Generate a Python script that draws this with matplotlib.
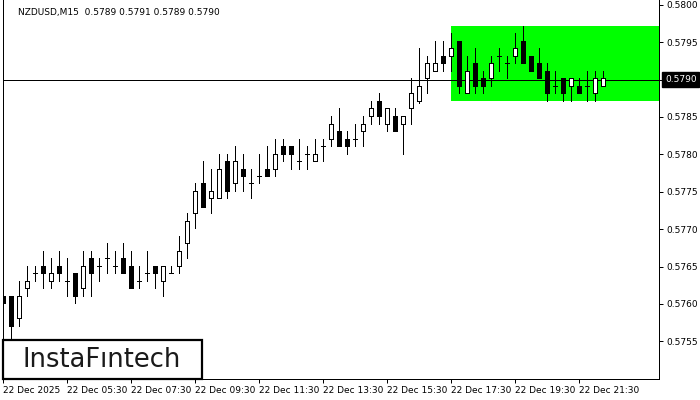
import numpy as np
import matplotlib
matplotlib.use('Agg')
import matplotlib.pyplot as plt
from matplotlib.patches import Rectangle

plt.rcParams['font.family'] = ['DejaVu Sans']

# NZDUSD M15 candles
opens = [0.57610, 0.57610, 0.57581, 0.57621, 0.57641, 0.57651, 0.57630, 0.57651,
         0.57630, 0.57641, 0.57621, 0.57661, 0.57651, 0.57661, 0.57651, 0.57661,
         0.57651, 0.57630, 0.57641, 0.57651, 0.57630, 0.57641, 0.57651, 0.57681,
         0.57721, 0.57761, 0.57741, 0.57741, 0.57791, 0.57761, 0.57781, 0.57761,
         0.57771, 0.57781, 0.57781, 0.57811, 0.57811, 0.57791, 0.57800, 0.57791,
         0.57811, 0.57821, 0.57831, 0.57821, 0.57821, 0.57831, 0.57851, 0.57871,
         0.57841, 0.57851, 0.57841, 0.57862, 0.57871, 0.57902, 0.57911, 0.57931,
         0.57931, 0.57952, 0.57882, 0.57922, 0.57902, 0.57902, 0.57931, 0.57922,
         0.57931, 0.57952, 0.57931, 0.57922, 0.57911, 0.57891, 0.57902, 0.57891,
         0.57891, 0.57891, 0.57882, 0.57891]
highs = [0.57641, 0.57610, 0.57630, 0.57651, 0.57651, 0.57671, 0.57661, 0.57671,
         0.57661, 0.57641, 0.57671, 0.57671, 0.57661, 0.57681, 0.57671, 0.57681,
         0.57671, 0.57651, 0.57671, 0.57651, 0.57651, 0.57651, 0.57691, 0.57721,
         0.57761, 0.57791, 0.57781, 0.57801, 0.57801, 0.57811, 0.57801, 0.57781,
         0.57801, 0.57811, 0.57821, 0.57821, 0.57811, 0.57821, 0.57811, 0.57821,
         0.57821, 0.57851, 0.57862, 0.57831, 0.57841, 0.57851, 0.57871, 0.57882,
         0.57862, 0.57862, 0.57851, 0.57902, 0.57942, 0.57931, 0.57952, 0.57952,
         0.57962, 0.57952, 0.57931, 0.57942, 0.57911, 0.57931, 0.57942, 0.57931,
         0.57962, 0.57972, 0.57931, 0.57942, 0.57922, 0.57911, 0.57902, 0.57902,
         0.57902, 0.57911, 0.57911, 0.57911]
lows = [0.57581, 0.57552, 0.57570, 0.57610, 0.57630, 0.57621, 0.57621, 0.57630,
        0.57610, 0.57601, 0.57610, 0.57610, 0.57630, 0.57641, 0.57641, 0.57641,
        0.57621, 0.57621, 0.57630, 0.57621, 0.57610, 0.57641, 0.57641, 0.57661,
        0.57701, 0.57730, 0.57721, 0.57741, 0.57741, 0.57751, 0.57751, 0.57741,
        0.57761, 0.57771, 0.57771, 0.57791, 0.57781, 0.57781, 0.57781, 0.57791,
        0.57791, 0.57811, 0.57811, 0.57800, 0.57811, 0.57811, 0.57841, 0.57841,
        0.57831, 0.57831, 0.57800, 0.57841, 0.57868, 0.57882, 0.57911, 0.57911,
        0.57911, 0.57882, 0.57882, 0.57882, 0.57882, 0.57891, 0.57911, 0.57902,
        0.57922, 0.57922, 0.57911, 0.57902, 0.57871, 0.57882, 0.57871, 0.57871,
        0.57882, 0.57871, 0.57871, 0.57891]
closes = [0.57601, 0.57570, 0.57610, 0.57630, 0.57641, 0.57641, 0.57641, 0.57641,
          0.57630, 0.57610, 0.57651, 0.57641, 0.57651, 0.57661, 0.57651, 0.57641,
          0.57621, 0.57630, 0.57641, 0.57641, 0.57651, 0.57641, 0.57671, 0.57711,
          0.57751, 0.57730, 0.57751, 0.57781, 0.57751, 0.57791, 0.57771, 0.57761,
          0.57771, 0.57771, 0.57800, 0.57800, 0.57800, 0.57791, 0.57800, 0.57800,
          0.57811, 0.57841, 0.57811, 0.57811, 0.57821, 0.57841, 0.57862, 0.57851,
          0.57862, 0.57831, 0.57851, 0.57882, 0.57891, 0.57922, 0.57922, 0.57922,
          0.57942, 0.57891, 0.57911, 0.57891, 0.57891, 0.57922, 0.57931, 0.57922,
          0.57942, 0.57922, 0.57911, 0.57902, 0.57882, 0.57891, 0.57882, 0.57902,
          0.57882, 0.57891, 0.57902, 0.57902]

time_labels = ['22 Dec 2025', '22 Dec 05:30', '22 Dec 07:30', '22 Dec 09:30',
               '22 Dec 11:30', '22 Dec 13:30', '22 Dec 15:30', '22 Dec 17:30',
               '22 Dec 19:30', '22 Dec 21:30']
price_ticks = [0.5755, 0.5760, 0.5765, 0.5770, 0.5775, 0.5780, 0.5785, 0.5790, 0.5795, 0.5800]
last_price = 0.5790
zone_first_bar = 56
zone_top = 0.57972
zone_bottom = 0.57871
title = 'NZDUSD,M15  0.5789 0.5791 0.5789 0.5790'

W, H = 700, 400
PX = 0.72  # one pixel in points at 100 dpi
fig = plt.figure(figsize=(7, 4), dpi=100)
ax = fig.add_axes([2.7 / W, 21 / H, (659 - 2.7) / W, 379 / H])

o = np.array(opens)
c = np.array(closes)
x = np.arange(len(o))

ax.set_xlim(-0.1, 81.94)
ax.set_ylim(0.574996, 0.580063)

# green zone
ax.add_patch(Rectangle((zone_first_bar - 0.05, zone_bottom), 81.94 - zone_first_bar + 0.05,
                       zone_top - zone_bottom, facecolor='#00ff00', edgecolor='none', zorder=1))

ax.axhline(last_price, color='black', lw=PX, zorder=1.5)

ax.vlines(x, lows, highs, color='black', lw=PX, zorder=2, antialiased=False)
face = np.where(c > o, 'white', 'black')
ax.bar(x, np.abs(c - o), width=0.5, bottom=np.minimum(o, c), color=face,
       edgecolor='black', linewidth=PX, zorder=3, antialiased=False)

ax.spines['top'].set_visible(False)
for s in ['left', 'right', 'bottom']:
    ax.spines[s].set_linewidth(PX)

ax.yaxis.tick_right()
ax.set_yticks(price_ticks)
ax.set_yticklabels(['' if abs(p - last_price) < 1e-9 else f'{p:.4f}' for p in price_ticks])
ax.tick_params(axis='y', direction='out', length=3, width=PX, labelsize=6.5, pad=2)

ax.set_xticks(range(0, len(o), 8))
ax.set_xticklabels(time_labels)
for lbl in ax.get_xticklabels():
    lbl.set_ha('left')
ax.tick_params(axis='x', direction='out', length=3, width=PX, labelsize=6.5, pad=2)

ax.annotate(f'{last_price:.4f}', xy=(1, last_price), xycoords=('axes fraction', 'data'),
            xytext=(4.3, 0), textcoords='offset points', ha='left', va='center',
            color='white', fontsize=6.5, annotation_clip=False,
            bbox=dict(boxstyle='square,pad=0.3', fc='black', ec='black'))

fig.text(18 / W, 1 - 12 / H, title, fontsize=6.5, va='center', ha='left')

# logo box
fig.patches.append(Rectangle((2.7 / W, 21 / H), 199 / W, 39 / H, transform=fig.transFigure,
                             facecolor='white', edgecolor='black', lw=1.6, zorder=5))
fig.text(102 / W, 1 - 360 / H, 'InstaFıntech', fontsize=18.5, ha='center', va='center',
         color='#1a1a1a', zorder=6)

fig.savefig('out.png', dpi=100)
